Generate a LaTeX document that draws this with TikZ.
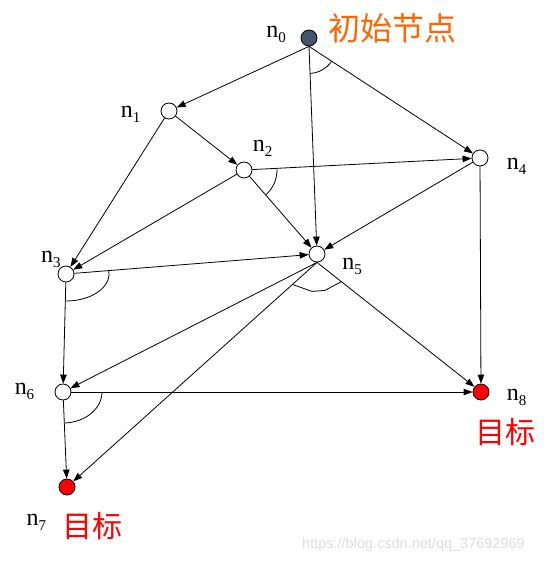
\documentclass[tikz,border=0pt]{standalone}
\usepackage{fontspec}
\setmainfont{Liberation Serif}
\newfontfamily\cjk{Noto Sans CJK SC}
\newfontfamily\wmfont{Liberation Sans}
\usetikzlibrary{arrows.meta,angles,calc}
\definecolor{darknode}{RGB}{68,84,106}
\definecolor{orangetxt}{RGB}{255,102,0}
\definecolor{wmgray}{RGB}{222,222,222}
\newcommand\nlab[1]{n\raisebox{-5pt}{\fontsize{15}{15}\selectfont #1}}
\begin{document}
\begin{tikzpicture}[x=1pt,y=1pt,
  nd/.style={circle,draw=black,line width=0.8pt,minimum size=16pt,inner sep=0pt,fill=white},
  startnode/.style={nd,fill=darknode},
  goalnode/.style={nd,fill=red},
  arr/.style={line width=0.8pt,-{Triangle[length=9pt,width=6.5pt]}},
  anglemark/.style={draw,line width=0.8pt},
  lab/.style={font=\fontsize{24}{24}\selectfont,inner sep=0pt},
  cn/.style={font=\fontsize{30}{30}\selectfont\cjk,inner sep=0pt}
]
\useasboundingbox (0,0) rectangle (555,563);
% node centres
\coordinate (p0) at (309,525);
\coordinate (p1) at (169,452);
\coordinate (p2) at (244,393);
\coordinate (p3) at (66,289);
\coordinate (p4) at (480,405);
\coordinate (p5) at (317,309);
\coordinate (p6) at (63,171);
\coordinate (p7) at (67,76);
\coordinate (p8) at (481,171);
% nodes
\node[startnode] (n0) at (p0) {};
\node[nd] (n1) at (p1) {};
\node[nd] (n2) at (p2) {};
\node[nd] (n3) at (p3) {};
\node[nd] (n4) at (p4) {};
\node[nd] (n5) at (p5) {};
\node[nd] (n6) at (p6) {};
\node[goalnode] (n7) at (p7) {};
\node[goalnode] (n8) at (p8) {};
\coordinate (s0) at (n0.south);
\coordinate (s5) at (n5.south);
% labels
\node[lab] (l0) at (276,528.5) {\nlab{0}};
\node[lab] (l1) at (130.5,449) {\nlab{1}};
\node[lab] (l2) at (262.5,414.5) {\nlab{2}};
\node[lab] (l3) at (51,303.5) {\nlab{3}};
\node[lab] (l4) at (516.5,397) {\nlab{4}};
\node[lab] (l5) at (352,296.5) {\nlab{5}};
\node[lab] (l6) at (24.5,172) {\nlab{6}};
\node[lab] (l7) at (36.5,41) {\nlab{7}};
\node[lab] (l8) at (516.5,165.5) {\nlab{8}};
\node[cn,text=orangetxt,font=\fontsize{32}{32}\selectfont\cjk] (tstart) at (392,534.5) {初始节点};
\node[cn,text=red] (tgoal8) at (505,130.5) {目标};
\node[cn,text=red] (tgoal7) at (92,36.5) {目标};
\node[font=\wmfont\fontsize{14.5}{14.5}\selectfont,text=wmgray,anchor=west,inner sep=0pt] (wm) at (302,18) {https://blog.csdn.net/qq\_37692969};
% edges
\draw[arr] (s0) -- (n1);
\draw[arr] (s0) -- (n4);
\draw[arr] (s0) -- (n5);
\draw[arr] (n1) -- (n2);
\draw[arr] (n1) -- (n3);
\draw[arr] (n2) -- (n3);
\draw[arr] (n2) -- (n4);
\draw[arr] (n2) -- (n5);
\draw[arr] (n3) -- (n5);
\draw[arr] (n3) -- (n6);
\draw[arr] (n4) -- (n5);
\draw[arr] (n4) -- (n8);
\draw[arr] (s5) -- (n6);
\draw[arr] (s5) -- (n7);
\draw[arr] (s5) -- (n8);
\draw[arr] (n6) -- (n7);
\draw[arr] (n6) -- (n8);
% angle marks
\pic[anglemark, angle radius=27pt] {angle = p5--s0--p4};
\pic[anglemark, angle radius=33pt] {angle = p5--p2--p4};
\draw[line width=0.8pt] ([shift={(7.2:43 and 27)}]p3) arc[start angle=7.2,end angle=-90.9,x radius=43,y radius=27];
\draw[line width=0.8pt] ([shift={(0:39 and 31)}]p6) arc[start angle=0,end angle=-88.1,x radius=39,y radius=31];
\draw[line width=0.8pt] ($(s5)!33pt!(n7)$) -- ([shift={(-5,-29)}]s5) -- ([shift={(8,-28)}]s5) -- ($(s5)!31pt!(n8)$);
\end{tikzpicture}
\end{document}
